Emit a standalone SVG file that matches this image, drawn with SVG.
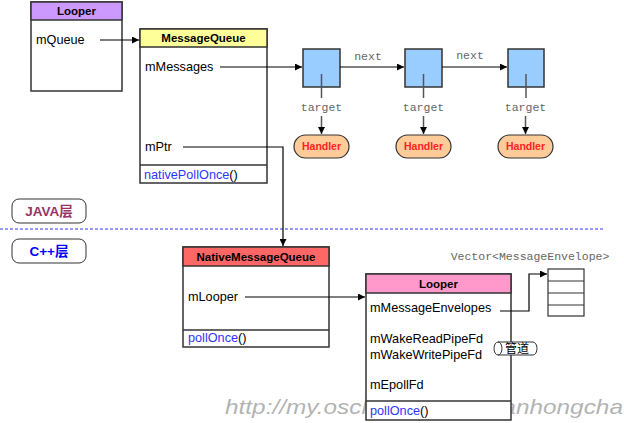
<svg xmlns="http://www.w3.org/2000/svg" width="624" height="423" viewBox="0 0 624 423">
<style>
.box{fill:#fff;stroke:#333;stroke-width:1.5}
.hd{stroke:#333;stroke-width:1.5}
.ht{font-family:"Liberation Sans",Arial,sans-serif;font-size:11.5px;font-weight:bold;fill:#000;text-anchor:middle}
.t{font-family:"Liberation Sans",Arial,sans-serif;font-size:12.7px;fill:#000}
.m{fill:#3333ff}
.mono{font-family:"Liberation Mono","Courier New",monospace;font-size:11.5px;fill:#666;text-anchor:middle}
.sq{fill:#99ccff;stroke:#333;stroke-width:1.5}
.hand{fill:#ffcc99;stroke:#333;stroke-width:1.2}
.handt{font-family:"Liberation Sans",Arial,sans-serif;font-size:10.5px;font-weight:bold;fill:#ff2222;text-anchor:middle}
.ln{fill:none;stroke:#000;stroke-width:1.2}
.gl{fill:none;stroke:#555;stroke-width:1.5}
.lay{fill:#fff;stroke:#333;stroke-width:1}
</style>
<defs>
<marker id="ar" viewBox="0 0 10 10" refX="10" refY="5" markerWidth="7" markerHeight="7" orient="auto" markerUnits="userSpaceOnUse">
<path d="M0,0 L10,5 L0,10 z" fill="#000"/>
</marker>
</defs>

<text x="225" y="414" font-family="'Liberation Sans',Arial,sans-serif" font-size="21" font-style="italic" fill="#999" fill-opacity="0.75" textLength="398" lengthAdjust="spacingAndGlyphs">http://my.oschina.net/youranhongcha</text>

<g id="layer-java">
<rect class="lay" x="12" y="199" width="74" height="24" rx="7"/>
<text x="49" y="216" font-family="'Liberation Sans','Noto Sans CJK SC',sans-serif" font-size="13.5" font-weight="bold" fill="#993366" text-anchor="middle">JAVA层</text>
</g>
<g id="layer-cpp">
<rect class="lay" x="12" y="239" width="74" height="24" rx="7"/>
<text x="49" y="256" font-family="'Liberation Sans','Noto Sans CJK SC',sans-serif" font-size="13.5" font-weight="bold" fill="#0000ff" text-anchor="middle">C++层</text>
</g>
<line x1="0" y1="229" x2="605" y2="229" stroke="#3333ff" stroke-width="1" stroke-dasharray="3,2"/>

<g id="looper-java">
<rect class="box" x="31" y="2" width="91" height="89"/>
<rect class="hd" x="31" y="2" width="91" height="18" fill="#cc99ff"/>
<text class="ht" x="76.5" y="15">Looper</text>
<text class="t" x="36" y="44">mQueue</text>
</g>

<g id="messagequeue">
<rect class="box" x="140" y="29" width="127" height="154"/>
<rect class="hd" x="140" y="29" width="127" height="18" fill="#ffff99"/>
<text class="ht" x="203.5" y="42">MessageQueue</text>
<text class="t" x="145" y="71">mMessages</text>
<text class="t" x="145" y="151">mPtr</text>
<line class="hd" x1="140" y1="165" x2="267" y2="165"/>
<text class="t" x="144" y="179"><tspan class="m">nativePollOnce</tspan>()</text>
</g>

<g id="msg1"><rect class="sq" x="303" y="49" width="37" height="38"/></g>
<g id="msg2"><rect class="sq" x="405" y="49" width="37" height="38"/></g>
<g id="msg3"><rect class="sq" x="508" y="49" width="36" height="38"/></g>

<g id="handler1"><rect class="hand" x="294" y="135" width="55" height="23" rx="11.5"/><text class="handt" x="321.5" y="150">Handler</text></g>
<g id="handler2"><rect class="hand" x="396" y="135" width="55" height="23" rx="11.5"/><text class="handt" x="423.5" y="150">Handler</text></g>
<g id="handler3"><rect class="hand" x="498" y="135" width="55" height="23" rx="11.5"/><text class="handt" x="525.5" y="150">Handler</text></g>

<g id="nativemessagequeue">
<rect class="box" x="183" y="247" width="146" height="100"/>
<rect class="hd" x="183" y="247" width="146" height="19" fill="#ff6666"/>
<text class="ht" x="256" y="261">NativeMessageQueue</text>
<text class="t" x="188" y="301">mLooper</text>
<line class="hd" x1="183" y1="330" x2="329" y2="330"/>
<text class="t" x="188" y="342"><tspan class="m">pollOnce</tspan>()</text>
</g>

<g id="looper-native">
<rect class="box" x="366" y="274" width="145" height="146"/>
<rect class="hd" x="366" y="274" width="145" height="19" fill="#ff99cc"/>
<text class="ht" x="438.5" y="288">Looper</text>
<text class="t" x="370" y="312">mMessageEnvelopes</text>
<text class="t" x="370" y="343">mWakeReadPipeFd</text>
<text class="t" x="370" y="359">mWakeWritePipeFd</text>
<text class="t" x="370" y="389">mEpollFd</text>
<line class="hd" x1="366" y1="401" x2="511" y2="401"/>
<text class="t" x="370" y="415"><tspan class="m">pollOnce</tspan>()</text>
</g>

<g id="pipe">
<path d="M498,342 L533,342 A4,6.5 0 0 1 533,355 L498,355 A4,6.5 0 0 1 498,342 Z" fill="#fff" stroke="#333" stroke-width="1"/>
<path d="M498,342 A4,6.5 0 0 1 498,355" fill="none" stroke="#333" stroke-width="1"/>
<text x="517" y="353" font-family="'Noto Sans CJK SC',sans-serif" font-size="12" fill="#000" text-anchor="middle">管道</text>
</g>

<g id="vector">
<text class="mono" x="530" y="260">Vector&lt;MessageEnvelope&gt;</text>
<rect x="548" y="269" width="36" height="47" fill="#fff" stroke="#333" stroke-width="1.2"/>
<line x1="548" y1="281" x2="584" y2="281" stroke="#333" stroke-width="1.2"/>
<line x1="548" y1="293" x2="584" y2="293" stroke="#333" stroke-width="1.2"/>
<line x1="548" y1="305" x2="584" y2="305" stroke="#333" stroke-width="1.2"/>
</g>

<g id="connectors">
<line class="ln" x1="100" y1="40" x2="139" y2="40" marker-end="url(#ar)"/>
<line class="ln" x1="220" y1="67" x2="302" y2="67" marker-end="url(#ar)"/>
<line class="ln" x1="340" y1="67" x2="404" y2="67" marker-end="url(#ar)"/>
<line class="ln" x1="442" y1="67" x2="507" y2="67" marker-end="url(#ar)"/>
<text class="mono" x="368" y="60">next</text>
<text class="mono" x="470" y="59">next</text>
<line class="gl" x1="321.5" y1="74" x2="321.5" y2="98"/>
<line class="gl" x1="423.5" y1="74" x2="423.5" y2="98"/>
<line class="gl" x1="526" y1="74" x2="526" y2="98"/>
<text class="mono" x="321.5" y="111">target</text>
<text class="mono" x="423.5" y="111">target</text>
<text class="mono" x="525.5" y="111">target</text>
<line class="gl" x1="321.5" y1="116" x2="321.5" y2="134" marker-end="url(#ar)"/>
<line class="gl" x1="423.5" y1="116" x2="423.5" y2="134" marker-end="url(#ar)"/>
<line class="gl" x1="525.5" y1="116" x2="525.5" y2="134" marker-end="url(#ar)"/>
<polyline class="ln" points="183,147 283,147 283,246" stroke="#333" marker-end="url(#ar)"/>
<line class="ln" x1="245" y1="297" x2="365" y2="297" marker-end="url(#ar)"/>
<polyline class="ln" points="500,311 529,311 529,274 547,274" marker-end="url(#ar)"/>
</g>
</svg>
